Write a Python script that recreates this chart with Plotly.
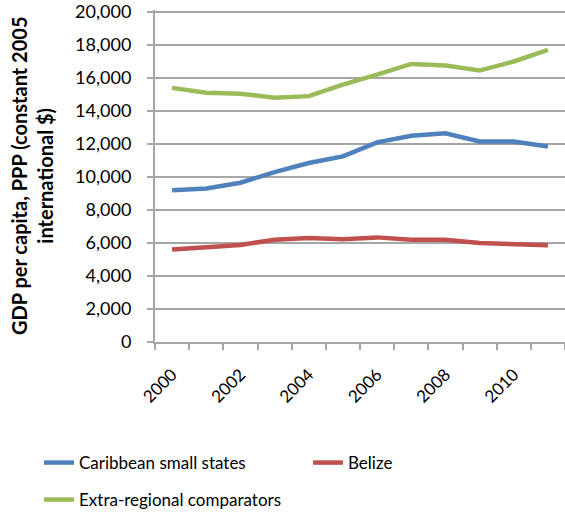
import plotly.graph_objects as go

years = list(range(2000, 2012))
caribbean = [9200, 9300, 9650, 10300, 10850, 11250, 12100, 12500, 12650, 12150, 12150, 11850]
belize = [5600, 5760, 5880, 6200, 6300, 6220, 6340, 6200, 6200, 6000, 5960, 5870]
extra = [15400, 15100, 15050, 14800, 14900, 15600, 16200, 16850, 16750, 16450, 17000, 17700]

tick_years = [2000, 2002, 2004, 2006, 2008, 2010]
y_ticks = list(range(0, 20001, 2000))

FONT = "Lato"
fig = go.Figure()
fig.add_trace(go.Scatter(x=years, y=caribbean, mode="lines", name="Caribbean small states",
                         line=dict(color="#4F81BD", width=4.5), legend="legend"))
fig.add_trace(go.Scatter(x=years, y=belize, mode="lines", name="Belize",
                         line=dict(color="#C0504D", width=4.5), legend="legend2"))
fig.add_trace(go.Scatter(x=years, y=extra, mode="lines", name="Extra-regional comparators",
                         line=dict(color="#9BBB59", width=4.5), legend="legend3"))

grid = "#A6A6A6"
leg = dict(orientation="h", xref="container", yref="container", xanchor="left",
           yanchor="middle", font=dict(size=17), bgcolor="rgba(0,0,0,0)")
fig.update_layout(
    width=565, height=514,
    margin=dict(l=155, r=0, t=8, b=172),
    paper_bgcolor="white", plot_bgcolor="white",
    font=dict(family=FONT, size=17, color="black"),
    showlegend=True,
    legend=dict(leg, x=39 / 565, y=1 - 463 / 514),
    legend2=dict(leg, x=308 / 565, y=1 - 463 / 514),
    legend3=dict(leg, x=39 / 565, y=1 - 500 / 514),
    xaxis=dict(range=[1999.5, 2011.5], tickvals=tick_years, ticktext=[str(t) for t in tick_years],
               tickangle=-45, ticks="", showgrid=False, showline=True, linecolor=grid, linewidth=2,
               zeroline=False, tickfont=dict(size=17), ticklabelstandoff=14,
               minor=dict(tickvals=[y - 0.5 for y in years] + [2011.5], ticks="outside",
                          ticklen=6, tickcolor=grid, tickwidth=2, showgrid=False)),
    yaxis=dict(range=[0, 20120], tickvals=y_ticks, tickformat=",", showgrid=True, gridcolor=grid,
               gridwidth=1.5, showline=True, linecolor=grid, linewidth=2, ticks="outside",
               ticklen=6, tickcolor=grid, tickwidth=2, zeroline=False, tickfont=dict(size=18),
               ticklabelstandoff=12, ticklabeloverflow="allow"),
)
fig.add_annotation(text="<b>GDP per capita, PPP (constant 2005<br>international $)</b>",
                   xref="paper", yref="paper", x=-123 / 410, y=0.5, xanchor="center", yanchor="middle",
                   textangle=-90, showarrow=False, font=dict(size=20, family=FONT))
fig.write_html("out.html")
